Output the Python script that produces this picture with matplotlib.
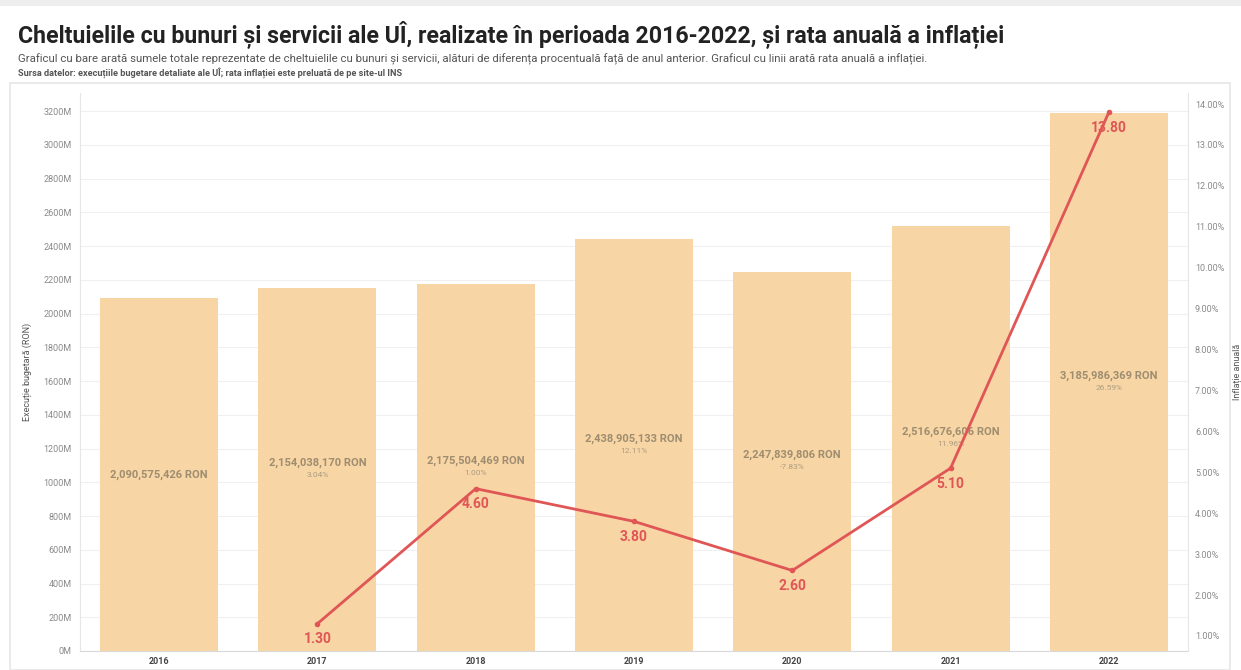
import numpy as np
import matplotlib.pyplot as plt
from matplotlib.patches import Rectangle

plt.rcParams['font.family'] = ['Roboto', 'DejaVu Sans']

# data
years = ["2016", "2017", "2018", "2019", "2020", "2021", "2022"]
spend = [2090575426, 2154038170, 2175504469, 2438905133, 2247839806, 2516676606, 3185986369]
spend_lbl = ["2,090,575,426 RON", "2,154,038,170 RON", "2,175,504,469 RON", "2,438,905,133 RON",
             "2,247,839,806 RON", "2,516,676,606 RON", "3,185,986,369 RON"]
pct_lbl = ["", "3.04%", "1.00%", "12.11%", "-7.83%", "11.96%", "26.59%"]
infl_years = [1, 2, 3, 4, 5, 6]
inflation = [1.30, 4.60, 3.80, 2.60, 5.10, 13.80]

left_ticks = np.arange(0, 3201e6, 200e6)
right_ticks = np.arange(1, 15, 1)

fig = plt.figure(figsize=(12.41, 6.70), dpi=100)

# outer frame of the chart area
fig.patches.append(Rectangle((10/1241, 0), 1220/1241, (670-83)/670, transform=fig.transFigure,
                             fill=False, edgecolor='#e6e6e6', lw=1.2))
fig.patches.append(Rectangle((0, (670-6)/670), 1, 6/670, transform=fig.transFigure,
                             facecolor='#eeeeee', edgecolor='none'))

ax1 = fig.add_axes([80/1241, (670-651)/670, (1188-80)/1241, (651-93)/670])
x = np.arange(len(years))
ax1.bar(x, spend, width=0.745, color='#f8d5a4', zorder=2)
ax1.set_xlim(-0.5, 6.5)
ax1.set_ylim(0, 3307e6)
ax1.set_yticks(left_ticks)
ax1.set_yticklabels([f"{int(v/1e6)}M" for v in left_ticks])
ax1.set_xticks(x)
ax1.set_xticklabels(years, fontweight='bold')
ax1.tick_params(axis='y', length=0, labelsize=6.5, labelcolor='#8a8a8a', pad=6)
ax1.tick_params(axis='x', length=0, labelsize=6.5, labelcolor='#444444', pad=4)
ax1.grid(axis='y', color='#f0f0f0', lw=0.8, zorder=0)
for s in ['top', 'right']:
    ax1.spines[s].set_visible(False)
ax1.spines['left'].set_color('#e6e6e6')
ax1.spines['bottom'].set_color('#d9d9d9')
ax1.set_ylabel("Execuție bugetară (RON)", fontsize=6.5, color='#555555')
ax1.yaxis.set_label_coords(-0.043, 0.5)

# labels inside the bars
for i, v in enumerate(spend):
    if pct_lbl[i]:
        ax1.annotate(spend_lbl[i], (i, v/2), xytext=(0, 1), textcoords='offset points',
                     ha='center', va='bottom', fontsize=8, fontweight='bold',
                     color='#9e8d70', zorder=3)
        ax1.annotate(pct_lbl[i], (i, v/2), xytext=(0, -2), textcoords='offset points',
                     ha='center', va='top', fontsize=6, color='#ab9d84', zorder=3)
    else:
        ax1.text(i, v/2, spend_lbl[i], ha='center', va='center', fontsize=8,
                 fontweight='bold', color='#9e8d70', zorder=3)

ax2 = ax1.twinx()
ax2.plot(infl_years, inflation, color='#e05656', lw=2, marker='o', markersize=3, zorder=4)
ax2.set_ylim(0.632, 14.27)
ax2.set_yticks(right_ticks)
ax2.set_yticklabels([f"{v:.2f}%" for v in right_ticks])
ax2.tick_params(axis='y', length=0, labelsize=6.5, labelcolor='#8a8a8a', pad=5)
for s in ['top', 'left', 'bottom']:
    ax2.spines[s].set_visible(False)
ax2.spines['right'].set_color('#e6e6e6')
ax2.set_ylabel("Inflație anuală", fontsize=6.5, color='#555555', rotation=90)
ax2.yaxis.set_label_coords(1.040, 0.5)
for xi, v in zip(infl_years, inflation):
    ax2.annotate(f"{v:.2f}", (xi, v), xytext=(0, -6), textcoords='offset points',
                 ha='center', va='top', fontsize=10, fontweight='bold', color='#e05656')

fig.text(18/1241, 1 - 35/670, "Cheltuielile cu bunuri și servicii ale UÎ, realizate în perioada 2016-2022, și rata anuală a inflației",
         fontsize=16.7, fontweight='bold', color='#222222', va='center', ha='left')
fig.text(18/1241, 1 - 59/670, "Graficul cu bare arată sumele totale reprezentate de cheltuielile cu bunuri și servicii, alături de diferența procentuală față de anul anterior. Graficul cu linii arată rata anuală a inflației.",
         fontsize=8.2, color='#555555', va='center', ha='left')
fig.text(18/1241, 1 - 73/670, "Sursa datelor: execuțiile bugetare detaliate ale UÎ; rata inflației este preluată de pe site-ul INS",
         fontsize=6.6, fontweight='bold', color='#555555', va='center', ha='left')

plt.savefig("out.png", dpi=100)
